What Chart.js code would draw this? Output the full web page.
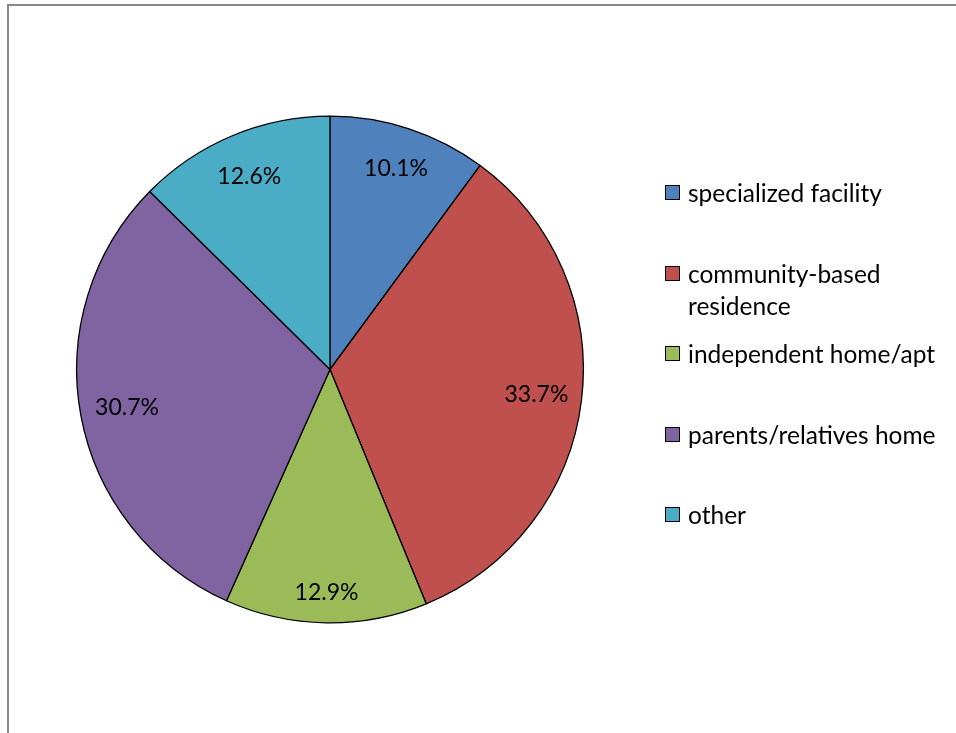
<!DOCTYPE html>
<html>
<head>
<meta charset="utf-8">
<script src="https://cdn.jsdelivr.net/npm/chart.js@4.4.1/dist/chart.umd.min.js"></script>
<style>
  html, body { margin: 0; padding: 0; background: #fff; }
  #wrap { position: relative; width: 956px; height: 733px; overflow: hidden; }
  #frame { position: absolute; left: 7px; top: 4px; right: -10px; bottom: -10px;
           border-top: 2px solid #878787; border-left: 2px solid #878787; }
  #pie { position: absolute; left: 0; top: 0; }
  #legend { position: absolute; left: 665px; top: 177px; font-family: Lato, "Open Sans", sans-serif;
            font-size: 24.5px; color: #000; }
  .item { position: absolute; left: 0; display: flex; align-items: flex-start; white-space: nowrap; }
  .swatch { width: 15px; height: 15px; border: 1px solid #000; box-sizing: border-box;
            margin-top: 8px; margin-right: 8px; flex: none; }
  .text { line-height: 32px; }
</style>
</head>
<body>
<div id="wrap">
  <div id="frame"></div>
  <canvas id="pie" width="956" height="733"></canvas>
  <div id="legend"></div>
</div>
<script>
// Where people live: share of respondents by living arrangement
const categories = [
  'specialized facility',
  ['community-based', 'residence'],
  'independent home/apt',
  'parents/relatives home',
  'other'
];
const shares = [10.1, 33.7, 12.9, 30.7, 12.6];
const sliceColors = ['#4F81BD', '#C0504D', '#9BBB59', '#8064A2', '#4BACC6'];

// Percent labels drawn inside each slice, inset from the rim
const sliceLabels = {
  id: 'sliceLabels',
  afterDatasetsDraw(chart) {
    const ctx = chart.ctx;
    const meta = chart.getDatasetMeta(0);
    ctx.save();
    ctx.font = '23px Lato, "Open Sans", sans-serif';
    ctx.fillStyle = '#000';
    ctx.textAlign = 'center';
    ctx.textBaseline = 'middle';
    meta.data.forEach((arc, i) => {
      const p = arc.getProps(['x', 'y', 'startAngle', 'endAngle', 'outerRadius'], true);
      const mid = (p.startAngle + p.endAngle) / 2;
      const c = Math.cos(mid), s = Math.sin(mid);
      const inset = Math.abs(c) * 42 + Math.abs(s) * 30;
      const d = p.outerRadius - inset;
      ctx.fillText(shares[i].toFixed(1) + '%', p.x + c * d, p.y + s * d);
    });
    ctx.restore();
  }
};

new Chart(document.getElementById('pie'), {
  type: 'pie',
  data: {
    labels: categories,
    datasets: [{
      data: shares,
      backgroundColor: sliceColors,
      borderColor: '#000',
      borderWidth: 1.3
    }]
  },
  options: {
    responsive: false,
    animation: false,
    layout: { padding: { left: 76, top: 115, right: 372, bottom: 109 } },
    plugins: { legend: { display: false }, tooltip: { enabled: false } }
  },
  plugins: [sliceLabels]
});

// Legend built from the same category and colour lists
const legend = document.getElementById('legend');
categories.forEach((label, i) => {
  const item = document.createElement('div');
  item.className = 'item';
  item.style.top = (i * 80.5) + 'px';
  const sw = document.createElement('div');
  sw.className = 'swatch';
  sw.style.background = sliceColors[i];
  const tx = document.createElement('div');
  tx.className = 'text';
  const lines = Array.isArray(label) ? label : [label];
  lines.forEach((ln, k) => {
    if (k) tx.appendChild(document.createElement('br'));
    tx.appendChild(document.createTextNode(ln));
  });
  item.appendChild(sw);
  item.appendChild(tx);
  legend.appendChild(item);
});
</script>
</body>
</html>
